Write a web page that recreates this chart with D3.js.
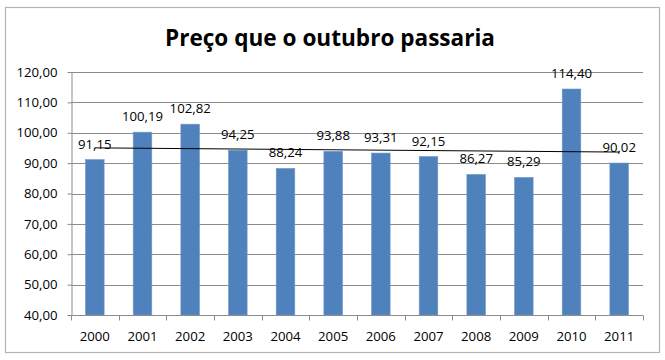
<!DOCTYPE html>
<html>
<head>
<meta charset="utf-8">
<script src="https://cdn.jsdelivr.net/npm/d3@7/dist/d3.min.js"></script>
<style>
  html, body { margin: 0; padding: 0; background: #fff; }
  svg { display: block; }
  text { font-family: "Open Sans", "Liberation Sans", sans-serif; }
</style>
</head>
<body>
<svg id="chart" width="665" height="360"></svg>
<script>
const title = "Preço que o outubro passaria";
const years = ["2000","2001","2002","2003","2004","2005","2006","2007","2008","2009","2010","2011"];
const prices = [91.15, 100.19, 102.82, 94.25, 88.24, 93.88, 93.31, 92.15, 86.27, 85.29, 114.40, 90.02];
const yTicks = [40, 50, 60, 70, 80, 90, 100, 110, 120];

const fmt = d3.formatLocale({decimal: ",", thousands: ".", grouping: [3], currency: ["", ""]}).format(".2f");

const W = 665, H = 360;
const plot = {left: 71, right: 643, top: 72, bottom: 315};

const svg = d3.select("#chart");

// chart area border
svg.append("rect")
  .attr("x", 5.5).attr("y", 7.5)
  .attr("width", 654).attr("height", 345)
  .attr("fill", "#fff")
  .attr("stroke", "#b3b3b3").attr("stroke-width", 1.2);

// title
svg.append("text")
  .attr("x", 330).attr("y", 46)
  .attr("text-anchor", "middle")
  .attr("font-size", 24).attr("font-weight", "bold")
  .attr("fill", "#000")
  .attr("textLength", 330).attr("lengthAdjust", "spacingAndGlyphs")
  .text(title);

const x = d3.scaleBand()
  .domain(years)
  .range([plot.left, plot.right])
  .paddingInner(0.61)
  .paddingOuter(0.305);

const y = d3.scaleLinear()
  .domain([40, 120])
  .range([plot.bottom, plot.top]);

// gridlines
svg.append("g")
  .selectAll("line")
  .data(yTicks)
  .join("line")
  .attr("x1", plot.left).attr("x2", plot.right)
  .attr("y1", d => Math.round(y(d)) + 0.5).attr("y2", d => Math.round(y(d)) + 0.5)
  .attr("stroke", "#8c8c8c").attr("stroke-width", 1);

// bars
svg.append("g")
  .selectAll("rect")
  .data(prices)
  .join("rect")
  .attr("x", (d, i) => x(years[i]))
  .attr("y", d => y(d))
  .attr("width", x.bandwidth())
  .attr("height", d => y(40) - y(d))
  .attr("fill", "#4f81bd")
  .attr("stroke", "#6e95c8").attr("stroke-width", 0.6);

// y axis
const yAxis = d3.axisLeft(y)
  .tickValues(yTicks)
  .tickFormat(fmt)
  .tickSize(4)
  .tickSizeOuter(0)
  .tickPadding(10);
const gy = svg.append("g")
  .attr("transform", `translate(${plot.left + 0.5},0)`)
  .call(yAxis);
gy.select(".domain").attr("stroke", "#8c8c8c");
gy.selectAll(".tick line").attr("stroke", "#8c8c8c");
gy.selectAll(".tick text")
  .attr("font-size", 13.2)
  .attr("fill", "#000")
  .attr("font-family", "'Open Sans', sans-serif");

// x axis: ticks between categories
const gx = svg.append("g")
  .attr("transform", `translate(0,${plot.bottom + 0.5})`);
gx.append("line")
  .attr("x1", plot.left).attr("x2", plot.right)
  .attr("stroke", "#8c8c8c");
const boundaries = years.map(d => x(d) - x.step() * x.paddingInner() / 2).concat([plot.right]);
gx.selectAll("line.tk")
  .data(boundaries)
  .join("line")
  .attr("class", "tk")
  .attr("x1", d => Math.round(d) + 0.5).attr("x2", d => Math.round(d) + 0.5)
  .attr("y1", 0).attr("y2", 5)
  .attr("stroke", "#8c8c8c");
gx.selectAll("text")
  .data(years)
  .join("text")
  .attr("x", d => x(d) + x.bandwidth() / 2)
  .attr("y", 25)
  .attr("text-anchor", "middle")
  .attr("font-size", 13.2)
  .attr("fill", "#000")
  .text(d => d);

// linear trendline (least squares over category index)
const n = prices.length;
const xs = d3.range(1, n + 1);
const mx = d3.mean(xs), my = d3.mean(prices);
const slope = d3.sum(xs, (v, i) => (v - mx) * (prices[i] - my)) / d3.sum(xs, v => (v - mx) ** 2);
const icpt = my - slope * mx;
const trend = [
  {cx: x(years[0]) + x.bandwidth() / 2, v: icpt + slope * 1},
  {cx: x(years[n - 1]) + x.bandwidth() / 2, v: icpt + slope * n}
];
svg.append("line")
  .attr("x1", trend[0].cx).attr("y1", y(trend[0].v))
  .attr("x2", trend[1].cx).attr("y2", y(trend[1].v))
  .attr("stroke", "#000").attr("stroke-width", 1);

// data labels
svg.append("g")
  .selectAll("text")
  .data(prices)
  .join("text")
  .attr("x", (d, i) => x(years[i]) + x.bandwidth() / 2)
  .attr("y", d => y(d) - 11)
  .attr("text-anchor", "middle")
  .attr("font-size", 13.2)
  .attr("fill", "#000")
  .text(d => fmt(d));
</script>
</body>
</html>
